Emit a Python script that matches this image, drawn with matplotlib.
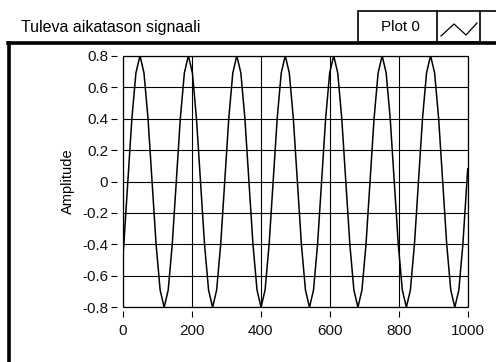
import matplotlib
matplotlib.use("Agg")
import matplotlib.pyplot as plt
from matplotlib.lines import Line2D
from matplotlib.patches import Rectangle

plt.rcParams['font.family'] = ['Liberation Sans', 'DejaVu Sans']
plt.rcParams['axes.unicode_minus'] = False

title = "Tuleva aikatason signaali"
legend_label = "Plot 0"
y_label = "Amplitude"

x_ticks = [0, 200, 400, 600, 800, 1000]
x_tick_labels = ["0", "200", "400", "600", "800", "1000"]
y_ticks = [0.8, 0.6, 0.4, 0.2, 0.0, -0.2, -0.4, -0.6, -0.8]
y_tick_labels = ["0.8", "0.6", "0.4", "0.2", "0", "-0.2", "-0.4", "-0.6", "-0.8"]

# samples
signal_x = [0, 3.2, 14.9, 26.6, 38.3,
            50.0, 61.7, 73.4, 85.1, 96.8, 108.5, 120.2, 131.9, 143.6, 155.3, 167.0, 178.7,
            190.4, 202.1, 213.8, 225.5, 237.2, 248.9, 260.6, 272.3, 284.0, 295.7, 307.4, 319.1,
            330.8, 342.5, 354.2, 365.9, 377.6, 389.3, 401.0, 412.7, 424.4, 436.1, 447.8, 459.5,
            471.2, 482.9, 494.6, 506.3, 518.0, 529.7, 541.4, 553.1, 564.8, 576.5, 588.2, 599.9,
            611.6, 623.3, 635.0, 646.7, 658.4, 670.1, 681.8, 693.5, 705.2, 716.9, 728.6, 740.3,
            752.0, 763.7, 775.4, 787.1, 798.8, 810.5, 822.2, 833.9, 845.6, 857.3, 869.0, 880.7,
            892.4, 904.1, 915.8, 927.5, 939.2, 950.9, 962.6, 974.3, 986.0, 997.7, 1000]
signal_y = [-0.49, -0.4, 0.0, 0.4, 0.69,
            0.8, 0.69, 0.4, 0.0, -0.4, -0.69, -0.8, -0.69, -0.4, 0.0, 0.4, 0.69,
            0.8, 0.69, 0.4, 0.0, -0.4, -0.69, -0.8, -0.69, -0.4, 0.0, 0.4, 0.69,
            0.8, 0.69, 0.4, 0.0, -0.4, -0.69, -0.8, -0.69, -0.4, 0.0, 0.4, 0.69,
            0.8, 0.69, 0.4, 0.0, -0.4, -0.69, -0.8, -0.69, -0.4, 0.0, 0.4, 0.69,
            0.8, 0.69, 0.4, 0.0, -0.4, -0.69, -0.8, -0.69, -0.4, 0.0, 0.4, 0.69,
            0.8, 0.69, 0.4, 0.0, -0.4, -0.69, -0.8, -0.69, -0.4, 0.0, 0.4, 0.69,
            0.8, 0.69, 0.4, 0.0, -0.4, -0.69, -0.8, -0.69, -0.4, 0.0, 0.08]

W, H = 496, 362
fig = plt.figure(figsize=(W / 100, H / 100), dpi=100)
fig.patch.set_facecolor('white')


def fx(x):
    return x / W


def fy(y):
    return 1 - y / H


ax = fig.add_axes([fx(122.7), fy(307.3), (467.7 - 122.7) / W, (307.3 - 55.7) / H])
ax.plot(signal_x, signal_y, color='black', lw=1.1)
ax.set_xlim(0, 1000)
ax.set_ylim(-0.8, 0.8)
ax.set_xticks(x_ticks)
ax.set_xticklabels(x_tick_labels)
ax.set_yticks(y_ticks)
ax.set_yticklabels(y_tick_labels)
ax.grid(True, color='black', lw=0.8)
ax.set_axisbelow(True)
for s in ax.spines.values():
    s.set_visible(False)
ax.spines['left'].set_position(('outward', 4))
ax.spines['bottom'].set_position(('outward', 3))
ax.tick_params(direction='out', length=4.5, width=0.8, color='black',
               labelsize=11, labelcolor='#111111')
ax.tick_params(axis='y', pad=2)
ax.tick_params(axis='x', pad=4.5)
ax.add_patch(Rectangle((0, 0), 1, 1, transform=ax.transAxes, fill=False,
                       edgecolor='black', lw=0.9, clip_on=False, zorder=5))
ax.set_ylabel(y_label, fontsize=10.5, labelpad=5)

# title
fig.text(fx(21), fy(32), title, fontsize=11.5, ha='left', va='baseline')

# outer frame (thick)
fig.add_artist(Line2D([fx(8), fx(496)], [fy(42.5), fy(42.5)], color='black', lw=2.6))
fig.add_artist(Line2D([fx(9), fx(9)], [fy(42.5), fy(362)], color='black', lw=2.6))

# legend box
fig.add_artist(Rectangle((fx(358), fy(42)), (480 - 358) / W, (42 - 11) / H,
                         fill=False, edgecolor='black', lw=1.2))
fig.add_artist(Line2D([fx(437), fx(437)], [fy(11), fy(42)], color='black', lw=1.2))
fig.add_artist(Line2D([fx(480), fx(496)], [fy(11), fy(11)], color='black', lw=1.2))
fig.text(fx(400), fy(27), legend_label, fontsize=11, ha='center', va='center')
fig.add_artist(Line2D([fx(441), fx(454), fx(466), fx(477)],
                      [fy(36), fy(24), fy(35), fy(23)], color='black', lw=0.9))

fig.savefig("out.png", dpi=100, facecolor='white')
